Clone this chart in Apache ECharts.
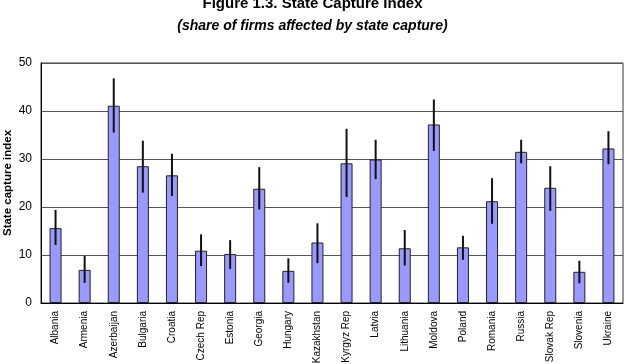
<!DOCTYPE html>
<html><head><meta charset="utf-8">
<script src="https://cdn.jsdelivr.net/npm/echarts@6/dist/echarts.min.js"></script>
<style>html,body{margin:0;padding:0;background:#fff}#c{width:625px;height:364px}</style>
</head><body><div id="c"></div>
<script>
const categories = ["Albania","Armenia","Azerbaijan","Bulgaria","Croatia","Czech Rep","Estonia","Georgia","Hungary","Kazakhstan","Kyrgyz Rep","Latvia","Lithuania","Moldova","Poland","Romania","Russia","Slovak Rep","Slovenia","Ukraine"];
const values = [15.6,6.9,41.1,28.5,26.6,10.9,10.2,23.8,6.7,12.6,29.1,29.9,11.4,37.2,11.6,21.2,31.5,24.0,6.5,32.2];
const errLow = [12.1,4.2,35.5,23.0,22.3,7.7,7.1,19.5,4.2,8.3,22.1,25.8,7.8,31.7,9.0,16.5,29.1,19.2,4.1,28.9];
const errHigh = [19.4,9.8,46.8,33.8,31.1,14.3,13.1,28.3,9.3,16.6,36.3,34.0,15.2,42.4,14.0,26.0,34.0,28.5,8.8,35.8];
const yTicks = [0,10,20,30,40,50];

const chart = echarts.init(document.getElementById('c'));
const font = '"Liberation Sans", Arial, sans-serif';
chart.setOption({
  animation: false,
  title: [
    {text: 'Figure 1.3. State Capture Index', left: 'center', top: -9,
     textStyle: {fontFamily: font, fontSize: 15, fontWeight: 'bold', color: '#000'}},
    {text: '(share of firms affected by state capture)', left: 'center', top: 14,
     textStyle: {fontFamily: font, fontSize: 14, fontWeight: 'bold', fontStyle: 'italic', color: '#000'}}
  ],
  grid: {left: 41, right: 2, top: 63, bottom: 61, show: true, borderColor: '#333', borderWidth: 1, outerBoundsMode: 'none', containLabel: false},
  xAxis: {
    type: 'category', data: categories,
    axisLine: {lineStyle: {color: '#000'}},
    axisTick: {show: false},
    axisLabel: {rotate: 90, fontFamily: font, fontSize: 10, color: '#000', margin: 8, interval: 0}
  },
  yAxis: {
    type: 'value', min: yTicks[0], max: yTicks[yTicks.length-1], interval: 10,
    name: 'State capture index', nameLocation: 'middle', nameGap: 27, nameMoveOverlap: false,
    nameTextStyle: {fontFamily: font, fontSize: 11.5, fontWeight: 'bold', color: '#000'},
    axisLine: {show: true, lineStyle: {color: '#000'}},
    axisTick: {show: false},
    axisLabel: {fontFamily: font, fontSize: 12, color: '#000', margin: 9},
    splitLine: {lineStyle: {color: '#555', width: 1}}
  },
  series: [
    {type: 'bar', data: values, barWidth: 12,
     itemStyle: {color: '#9999ff', borderColor: '#222', borderWidth: 1}},
    {type: 'custom', data: categories.map((c,i)=>[i, errLow[i], errHigh[i]]),
     renderItem: function(params, api){
       const lo = api.coord([api.value(0), api.value(1)]);
       const hi = api.coord([api.value(0), api.value(2)]);
       return {type: 'line', shape: {x1: lo[0], y1: lo[1], x2: hi[0], y2: hi[1]},
               style: {stroke: '#111', lineWidth: 2}};
     }, z: 5}
  ]
});
</script></body></html>
